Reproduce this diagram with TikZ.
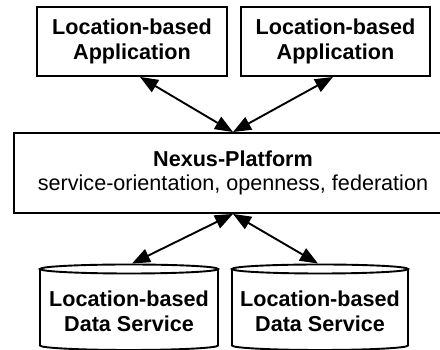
\documentclass[tikz,border=0pt]{standalone}
\usepackage{fontspec}
\setmainfont{Liberation Sans}
\usetikzlibrary{arrows.meta,calc,shapes.geometric}
\begin{document}
\begin{tikzpicture}[x=1pt,y=1pt,
  lw/.style={line width=1.9pt},
  txt/.style={align=center,inner sep=0pt,font=\fontsize{21.6}{24.6}\selectfont\bfseries},
  appbox/.style={txt,draw,lw,minimum height=69pt},
  platbox/.style={draw,lw,align=center,inner sep=0pt,minimum width=438pt,minimum height=80pt,font=\fontsize{21.6}{24.6}\selectfont},
  cyltop/.style={draw,lw,ellipse,inner sep=0pt,minimum width=178pt,minimum height=9pt},
  cylbody/.style={lw},
  biarrow/.style={lw,arrows={Triangle[length=18pt,width=14pt]-Triangle[length=18pt,width=14pt]}}]
\useasboundingbox (0,0) rectangle (440,350);
\clip (0,0) rectangle (440,350);
% applications
\node[appbox,minimum width=190pt] (app1) at (132,308.5) {Location-based\\Application};
\node[appbox,minimum width=189pt] (app2) at (335.5,308.5) {Location-based\\Application};
% platform
\node[platbox] (plat) at (233,177) {{\bfseries Nexus-Platform}\\service-orientation, openness, federation};
% data services (cylinders)
\draw[cylbody] (40,81) -- (40,4.5) arc[start angle=180,end angle=360,x radius=89pt,y radius=4.5pt] -- (218,81);
\node[cyltop] (ds1top) at (129,81) {};
\node[txt] (ds1) at (129,38.5) {Location-based\\Data Service};
\draw[cylbody] (232,81) -- (232,4.5) arc[start angle=180,end angle=360,x radius=88pt,y radius=4.5pt] -- (408,81);
\node[cyltop,minimum width=176pt] (ds2top) at (320,81) {};
\node[txt] (ds2) at (320,38.5) {Location-based\\Data Service};
% connectors
\draw[biarrow] ([xshift=8pt]app1.south) -- (plat.north);
\draw[biarrow] ([xshift=-2.5pt]app2.south) -- (plat.north);
\draw[biarrow] (plat.south) -- ([xshift=3pt]ds1top.north);
\draw[biarrow] (plat.south) -- ([xshift=-2pt]ds2top.north);
\end{tikzpicture}
\end{document}
